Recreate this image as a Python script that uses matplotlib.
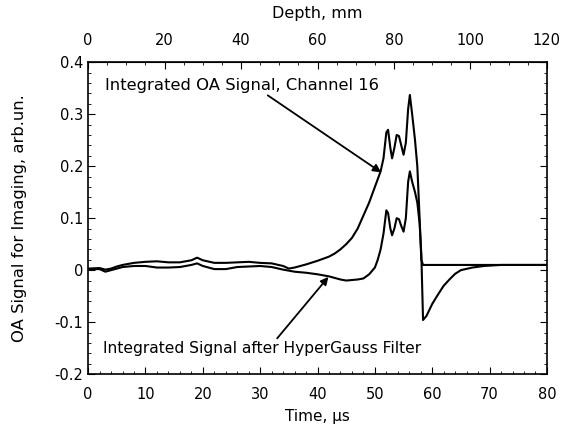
import numpy as np
import matplotlib.pyplot as plt
from matplotlib.ticker import MultipleLocator, FixedLocator

plt.rcParams['font.family'] = ['DejaVu Sans']

# Integrated OA signal, channel 16
t_raw = [0, 2, 3, 4, 5, 6, 8, 10, 12, 14, 16, 18, 19, 20, 22, 24, 26, 28, 30, 32,
         34, 35, 36, 38, 40, 41, 42, 43, 44, 45, 46, 47, 48, 49, 50, 50.5, 51, 51.5,
         52, 52.3, 52.7, 53, 53.4, 53.8, 54.2, 54.6, 55, 55.4, 55.8, 56.1, 56.5, 57,
         57.4, 57.8, 58.1, 58.4, 59, 60, 62, 65, 70, 75, 80]
sig_raw = [0.003, 0.004, 0.001, 0.003, 0.007, 0.010, 0.014, 0.016, 0.017, 0.015, 0.015,
           0.019, 0.024, 0.019, 0.014, 0.014, 0.015, 0.016, 0.014, 0.013,
           0.008, 0.003, 0.005, 0.011, 0.018, 0.022, 0.026, 0.032, 0.040, 0.050, 0.062,
           0.080, 0.105, 0.130, 0.160, 0.175, 0.190, 0.215,
           0.265, 0.270, 0.235, 0.215, 0.235, 0.260, 0.258, 0.240, 0.222, 0.245, 0.310,
           0.337, 0.300, 0.250, 0.200, 0.100, 0.020, 0.010, 0.010, 0.010, 0.010, 0.010,
           0.010, 0.010, 0.010]

# Integrated signal after HyperGauss filter
t_filt = [0, 2, 3, 4, 5, 6, 8, 10, 12, 14, 16, 18, 19, 20, 22, 24, 26, 28, 30, 32,
          34, 36, 38, 40, 42, 44, 45, 46, 47, 48, 49, 50, 50.5, 51, 51.5,
          52, 52.3, 52.7, 53, 53.4, 53.8, 54.2, 54.6, 55, 55.4, 55.8, 56.1, 56.5, 57,
          57.4, 57.8, 58.1, 58.4, 59, 60, 61, 62, 63, 64, 65, 67, 69, 72, 75, 80]
sig_filt = [0.002, 0.002, -0.003, 0.000, 0.003, 0.006, 0.008, 0.008, 0.005, 0.005,
            0.006, 0.010, 0.013, 0.008, 0.002, 0.002, 0.006, 0.007, 0.008, 0.006,
            0.001, -0.003, -0.005, -0.008, -0.012, -0.018, -0.020, -0.019, -0.018,
            -0.016, -0.008, 0.005, 0.020, 0.040, 0.070,
            0.115, 0.110, 0.080, 0.067, 0.080, 0.100, 0.098, 0.085, 0.074, 0.100, 0.170,
            0.190, 0.170, 0.150, 0.130, 0.090, 0.030, -0.096, -0.088, -0.065, -0.047,
            -0.030, -0.018, -0.007, 0.000, 0.005, 0.008, 0.010, 0.010, 0.010]

depth_ticks = [0, 20, 40, 60, 80, 100, 120]

fig = plt.figure(figsize=(5.65, 4.32), dpi=100)
ax = fig.add_axes([0.156, 0.134, 0.812, 0.722])

ax.plot(t_raw, sig_raw, color='black', lw=1.5)
ax.plot(t_filt, sig_filt, color='black', lw=1.5)

ax.set_xlim(0, 80)
ax.set_ylim(-0.2, 0.4)
ax.xaxis.set_major_locator(MultipleLocator(10))
ax.xaxis.set_minor_locator(MultipleLocator(2))
ax.yaxis.set_minor_locator(MultipleLocator(0.02))
ax.set_yticks([-0.2, -0.1, 0, 0.1, 0.2, 0.3, 0.4])
ax.set_yticklabels(['-0.2', '-0.1', '0', '0.1', '0.2', '0.3', '0.4'])
ax.tick_params(which='both', direction='in', right=True, labelsize=10.5)
ax.tick_params(which='major', length=5)
ax.tick_params(which='minor', length=2.5)
ax.tick_params(axis='x', pad=9)

ax.set_xlabel('Time, µs', fontsize=11, labelpad=5)
ax.set_ylabel('OA Signal for Imaging, arb.un.', fontsize=11.8, labelpad=20)

top = ax.secondary_xaxis('top', functions=(lambda t: t * 1.5, lambda d: d / 1.5))
top.xaxis.set_major_locator(FixedLocator(depth_ticks))
top.xaxis.set_minor_locator(FixedLocator(np.arange(0, 121, 5)))
top.tick_params(which='both', direction='in', labelsize=10.5, pad=10)
top.tick_params(which='major', length=5)
top.tick_params(which='minor', length=2.5)
top.set_xlabel('Depth, mm', fontsize=11.5, labelpad=11)

for s in ax.spines.values():
    s.set_linewidth(1.2)

ax.annotate('Integrated OA Signal, Channel 16', xy=(51.1, 0.188), xytext=(2.9, 0.356),
            fontsize=11.8, va='center', ha='left',
            arrowprops=dict(arrowstyle='-|>', color='black', lw=1.3,
                            shrinkA=0, shrinkB=0, relpos=(0.58, 0.0)))
ax.annotate('Integrated Signal after HyperGauss Filter', xy=(41.9, -0.013), xytext=(2.6, -0.151),
            fontsize=11.2, va='center', ha='left',
            arrowprops=dict(arrowstyle='-|>', color='black', lw=1.3,
                            shrinkA=0, shrinkB=0, relpos=(0.54, 1.0)))

fig.savefig('out.png', dpi=100)
